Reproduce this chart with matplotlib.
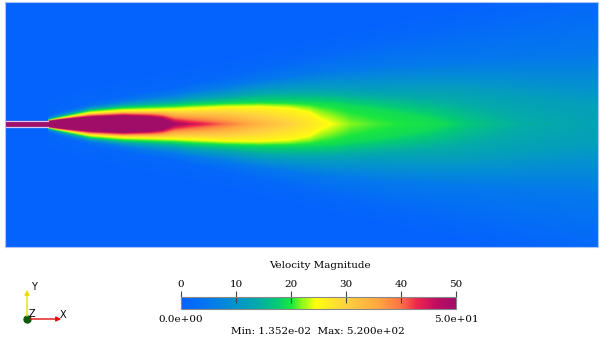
import numpy as np
import matplotlib
matplotlib.use("Agg")
import matplotlib.pyplot as plt
from matplotlib.colors import LinearSegmentedColormap, Normalize
from matplotlib.cm import ScalarMappable

# stations along the jet axis (image px) and what the picture shows there:
# centre-line speed and the half-width (px) of each iso-speed level
x_st = [5, 48, 60, 90, 123, 150, 163, 175, 190, 225, 260, 290, 310, 322, 335, 350, 375, 400, 430, 445, 470, 520, 598]
u_center = [200, 200, 200, 150, 110, 80, 65, 50, 46, 40, 34, 30, 27.5, 26, 24, 22, 20.8, 20, 19.3, 19, 17, 14.5, 12.5]
levels = [50, 26, 19, 12, 5, 1.5]
w_50 = [3, 3, 4.5, 7, 8.3, 7, 5, 0, 0, 0, 0, 0, 0, 0, 0, 0, 0, 0, 0, 0, 0, 0, 0]
w_26 = [3.3, 3.8, 6, 11, 13, 13.5, 13.8, 14, 14.5, 16, 16, 14, 9, 0, 0, 0, 0, 0, 0, 0, 0, 0, 0]
w_19 = [3.5, 4.3, 7, 13.5, 16.5, 17.5, 18, 18.5, 19.5, 21, 22, 22, 21.5, 21, 20, 18, 15, 11, 5, 0, 0, 0, 0]
w_12 = [3.7, 5, 8.5, 15.5, 19.5, 21.5, 22.5, 23.5, 25.5, 28.5, 33, 34.5, 35, 35, 35, 34.5, 34, 34, 34, 34, 33, 28, 18]
w_5 = [4, 6.5, 10.5, 18, 23, 27, 28.5, 30, 33, 38, 44, 48, 51, 53, 54, 55, 58, 60, 62, 63, 64, 67, 72]
w_1 = [4.5, 8, 13, 22, 28, 33, 35, 37, 41, 48, 56, 63, 68, 71, 73, 76, 82, 88, 93, 96, 100, 112, 128]
u_bg = 0.5

dom_x0, dom_x1 = 5, 598
dom_y0, dom_y1 = -123, 122
pipe_end = 48
pipe_r = 3.0

vmin, vmax = 0, 50
cbar_ticks = [0, 10, 20, 30, 40, 50]
u_min, u_max = 1.352e-02, 5.200e+02

# colour map (rainbow uniform-ish)
cm_pos = [0.0, 0.10, 0.20, 0.28, 0.35, 0.40, 0.44, 0.49, 0.60, 0.72, 0.80, 0.86, 0.93, 1.0]
cm_col = ['#0561ff', '#0578ed', '#0594cc', '#05aba8', '#05cc73', '#1ae640', '#8cf71a',
          '#ffff0d', '#ffd140', '#ffa640', '#fa7345', '#ed264d', '#bf0d61', '#a00d68']
cmap = LinearSegmentedColormap.from_list('pv', list(zip(cm_pos, cm_col)))

# build the field column by column from the read-off level widths
xx = np.linspace(dom_x0, dom_x1, (dom_x1 - dom_x0) * 2)
yy = np.linspace(dom_y0, dom_y1, (dom_y1 - dom_y0) * 2)
widths = [w_50, w_26, w_19, w_12, w_5, w_1]
U = np.empty((len(yy), len(xx)))
for j, xv in enumerate(xx):
    c = np.interp(xv, x_st, u_center)
    py, pv = [0.0], [c]
    for L, w in zip(levels, widths):
        wv = np.interp(xv, x_st, w)
        if L < c and wv > py[-1]:
            py.append(wv)
            pv.append(L)
    py.append(py[-1] + 20)
    pv.append(u_bg)
    U[:, j] = np.interp(np.abs(yy), py, pv)
    if xv < pipe_end:
        U[np.abs(yy) > pipe_r, j] = u_bg  # pipe wall

fig = plt.figure(figsize=(6.03, 3.42), dpi=100)
W, H = 603, 342

ax = fig.add_axes([dom_x0 / W, 1 - 247 / H, (dom_x1 - dom_x0) / W, 245 / H])
ax.imshow(U, cmap=cmap, vmin=vmin, vmax=vmax, origin='lower', aspect='auto',
          extent=[dom_x0, dom_x1, dom_y0, dom_y1], interpolation='bilinear')
for s in (-pipe_r, pipe_r):
    ax.plot([dom_x0, pipe_end], [s, s], color='#d9c6e6', lw=0.9)
ax.set_xlim(dom_x0, dom_x1)
ax.set_ylim(dom_y0, dom_y1)
ax.set_xticks([])
ax.set_yticks([])
for sp in ax.spines.values():
    sp.set_color('#a9c4f5')
    sp.set_linewidth(0.8)

# colour bar
serif = 'DejaVu Serif'
cax = fig.add_axes([181 / W, 1 - 309 / H, 275 / W, 12 / H])
cb = fig.colorbar(ScalarMappable(norm=Normalize(vmin, vmax), cmap=cmap), cax=cax,
                  orientation='horizontal', ticks=cbar_ticks)
cax.xaxis.set_ticks_position('top')
cax.tick_params(direction='inout', length=9, width=0.8, color='#444444', pad=1,
                labelsize=7.5)
for t in cax.get_xticklabels():
    t.set_fontfamily(serif)
cb.outline.set_edgecolor('#888888')
cb.outline.set_linewidth(0.8)

fig.text(320 / W, 1 - 266 / H, 'Velocity Magnitude', ha='center', va='center',
         fontsize=7.5, family=serif)
fig.text(181 / W, 1 - 320 / H, '%.1e' % vmin, ha='center', va='center',
         fontsize=7.5, family=serif)
fig.text(456 / W, 1 - 320 / H, '%.1e' % vmax, ha='center', va='center',
         fontsize=7.5, family=serif)
fig.text(318 / W, 1 - 331 / H, 'Min: %.3e  Max: %.3e' % (u_min, u_max),
         ha='center', va='center', fontsize=7.5, family=serif)

# orientation triad
tax = fig.add_axes([0, 0, 1, 1], facecolor='none')
tax.set_xlim(0, W)
tax.set_ylim(H, 0)
tax.axis('off')
ox, oy = 27, 319
tax.annotate('', xy=(ox, 287), xytext=(ox, oy),
             arrowprops=dict(arrowstyle='-|>', color='#e8e000', lw=1.0, mutation_scale=7))
tax.annotate('', xy=(64, oy), xytext=(ox, oy),
             arrowprops=dict(arrowstyle='-|>', color='#e01010', lw=1.0, mutation_scale=7))
tax.plot(ox, oy, 'o', color='#0a5a0a', ms=5)
tax.text(ox + 4, 287, 'Y', fontsize=7, va='center', ha='left')
tax.text(ox + 2, 314, 'Z', fontsize=7, va='center', ha='left')
tax.text(60, 315, 'X', fontsize=7, va='center', ha='left')

fig.savefig('out.png', dpi=100)
